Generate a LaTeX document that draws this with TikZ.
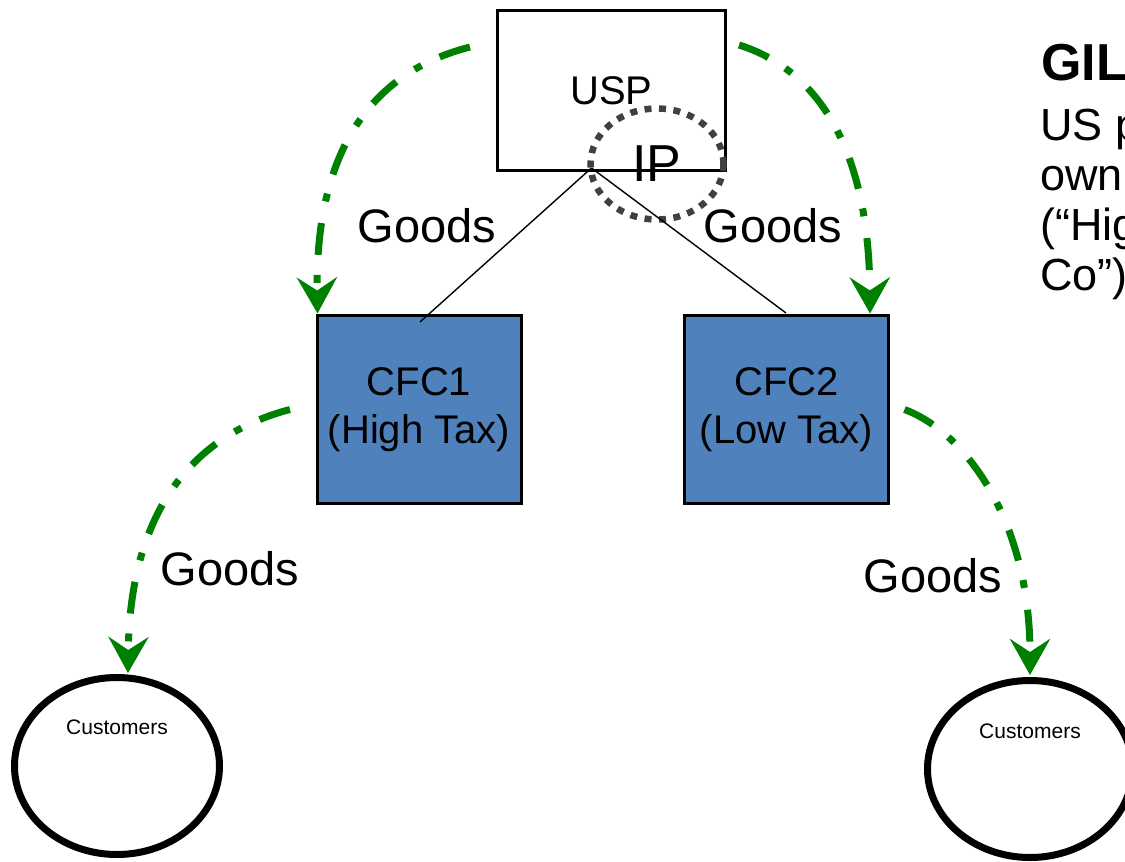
\documentclass[tikz,border=0pt]{standalone}
\usepackage{fontspec}
\setmainfont{Liberation Sans}
\usetikzlibrary{arrows.meta,shapes.geometric,calc}
\definecolor{goodsgreen}{HTML}{008000}
\definecolor{cfcblue}{HTML}{4F81BD}
\definecolor{ipgray}{HTML}{404040}
\newcommand{\fsz}[2]{\fontsize{#1}{#2}\selectfont}
\begin{document}
\begin{tikzpicture}[x=1pt,y=-1pt,
  boxstyle/.style={draw=black, line width=3pt, inner sep=0pt, outer sep=0pt},
  uspbox/.style={boxstyle, minimum width=228pt, minimum height=160pt, font=\fsz{40}{48}},
  cfcbox/.style={boxstyle, fill=cfcblue, minimum width=204pt, minimum height=188pt, align=center, font=\fsz{40}{48}},
  custnode/.style={ellipse, draw=black, line width=7pt, minimum width=205pt, minimum height=177pt, inner sep=0pt, outer sep=0pt},
  custlabel/.style={font=\fsz{21}{25}, inner sep=0pt},
  ipnode/.style={ellipse, draw=ipgray, line width=6.5pt, dash pattern=on 7pt off 7.5pt, minimum width=133pt, minimum height=111pt, inner sep=0pt, outer sep=0pt, font=\fsz{52}{60}},
  thinline/.style={draw=black, line width=1.4pt},
  goodsflow/.style={draw=goodsgreen, line width=7pt, dash pattern=on 32pt off 20pt on 8pt off 22pt, -{Stealth[length=36pt,width=40pt,inset=13pt]}},
  goodslabel/.style={font=\fsz{47}{56}, anchor=base, inner sep=0pt},
  sidetitle/.style={font=\bfseries\fsz{52}{60}, anchor=base west, inner sep=0pt},
  sidetext/.style={font=\fsz{45}{50}, anchor=base west, inner sep=0pt}
]
\useasboundingbox (0,0) rectangle (1125,862);
\clip (0,0) rectangle (1125,862);

% boxes
\node[uspbox] (usp) at (611.5,90.5) {USP};
\node[cfcbox] (cfc1) at (419,409.5) {CFC1\\(High Tax)};
\node[cfcbox] (cfc2) at (786.5,409.5) {CFC2\\(Low Tax)};

% customers
\node[custnode] (cust1) at (117,766) {};
\node[custlabel] (cust1lbl) at (117,727) {Customers};
\node[custnode] (cust2) at (1030,769) {};
\node[custlabel] (cust2lbl) at (1030,731) {Customers};

% IP circle
\node[ipnode] (ip) at (657,164) {IP};

% ownership lines
\coordinate (apex) at ($(ip.west)+(1,4)$);
\coordinate (cfc1top) at ($(cfc1.north)+(1,6.5)$);
\coordinate (cfc2top) at ($(cfc2.north)+(-0.5,-2.5)$);
\draw[thinline] (apex) -- (cfc1top);
\draw[thinline] (apex) -- (cfc2top);

% goods flows
\draw[goodsflow] ($(usp.north west)+(-27.5,36.5)$) .. controls (380,70) and (315,140) .. ($(cfc1.north west)+(0.5,-2)$);
\draw[goodsflow] ($(usp.north east)+(13.5,34.5)$) .. controls (812,68) and (869,140) .. ($(cfc2.north east)+(-18.5,-2)$);
\draw[goodsflow] ($(cfc1.west)+(-27,0)$) .. controls (200,433) and (130,503) .. ($(cust1.north)+(11,-4.5)$);
\draw[goodsflow] ($(cfc2.east)+(16,0)$) .. controls (965,432) and (1030,520) .. ($(cust2.north)+(0,-5.5)$);

% labels
\node[goodslabel] (g1) at (427,242) {Goods};
\node[goodslabel] (g2) at (773,242) {Goods};
\node[goodslabel] (g3) at (230,585) {Goods};
\node[goodslabel] (g4) at (933,592) {Goods};

% side text
\node[sidetitle] (t0) at (1041,80) {GIL};
\node[sidetext] (t1) at (1040,140) {US p};
\node[sidetext] (t2) at (1040,190) {own};
\node[sidetext] (t3) at (1040,240) {(“Hig};
\node[sidetext] (t4) at (1040,290) {Co”)};
\end{tikzpicture}
\end{document}
